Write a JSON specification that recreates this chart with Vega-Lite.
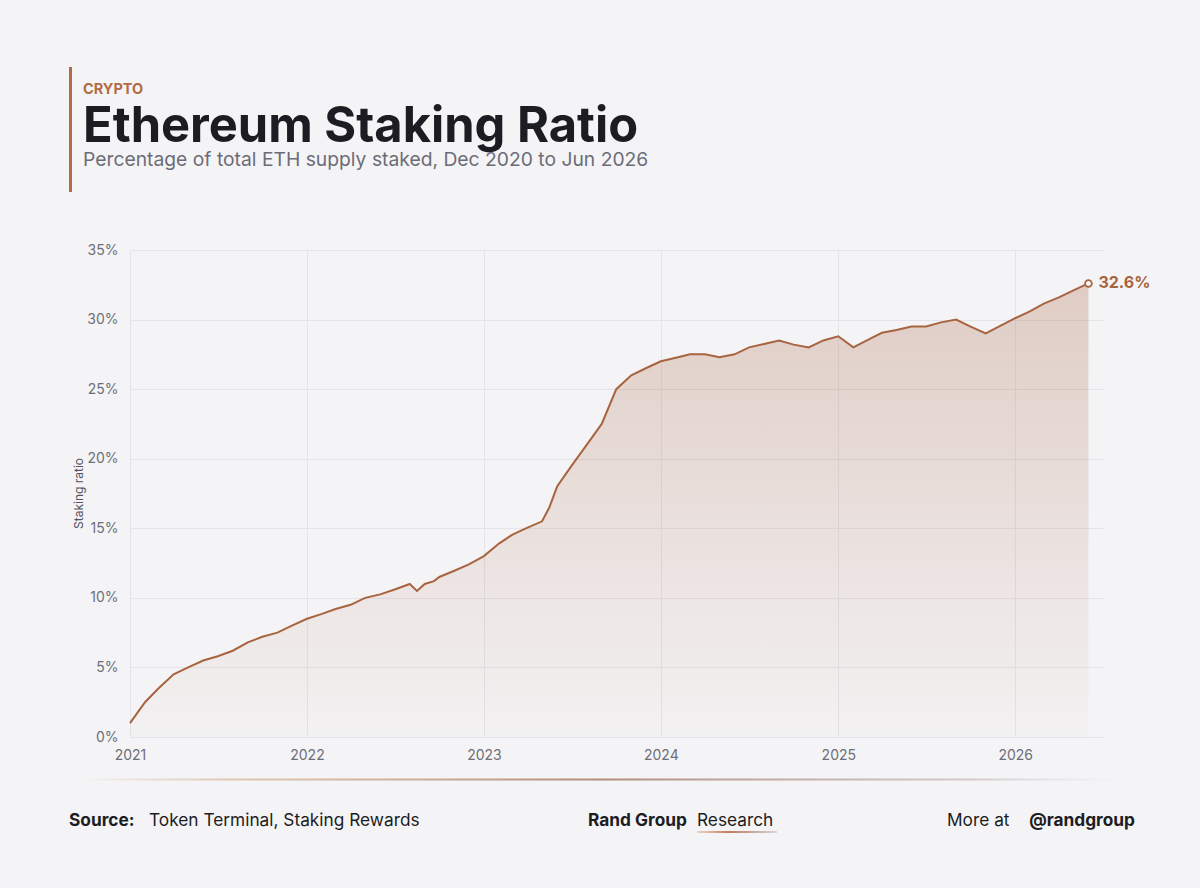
{
  "$schema": "https://vega.github.io/schema/vega-lite/v6.json",
  "autosize": {"type": "none"},
  "width": 973,
  "height": 487,
  "padding": {"left": 130, "top": 250, "right": 97, "bottom": 151},
  "background": "#f4f4f6",
  "config": {
    "view": {"stroke": null},
    "font": "Inter",
    "axis": {"labelFont": "Inter", "titleFont": "Inter"}
  },
  "data": {
    "values": [
      {"date": "2021-01-01", "ratio": 1.0},
      {"date": "2021-02-01", "ratio": 2.5},
      {"date": "2021-03-01", "ratio": 3.5},
      {"date": "2021-04-01", "ratio": 4.5},
      {"date": "2021-05-01", "ratio": 5.0},
      {"date": "2021-06-01", "ratio": 5.5},
      {"date": "2021-07-01", "ratio": 5.8},
      {"date": "2021-08-01", "ratio": 6.2},
      {"date": "2021-09-01", "ratio": 6.8},
      {"date": "2021-10-01", "ratio": 7.2},
      {"date": "2021-11-01", "ratio": 7.5},
      {"date": "2021-12-01", "ratio": 8.0},
      {"date": "2022-01-01", "ratio": 8.5},
      {"date": "2022-02-01", "ratio": 8.85},
      {"date": "2022-03-01", "ratio": 9.2},
      {"date": "2022-04-01", "ratio": 9.5},
      {"date": "2022-05-01", "ratio": 10.0},
      {"date": "2022-06-01", "ratio": 10.25},
      {"date": "2022-07-01", "ratio": 10.6},
      {"date": "2022-08-01", "ratio": 11.0},
      {"date": "2022-08-16", "ratio": 10.5},
      {"date": "2022-09-01", "ratio": 11.0},
      {"date": "2022-09-20", "ratio": 11.2},
      {"date": "2022-10-01", "ratio": 11.5},
      {"date": "2022-11-01", "ratio": 11.95},
      {"date": "2022-12-01", "ratio": 12.4},
      {"date": "2023-01-01", "ratio": 13.0},
      {"date": "2023-02-01", "ratio": 13.9},
      {"date": "2023-03-01", "ratio": 14.55},
      {"date": "2023-04-01", "ratio": 15.05},
      {"date": "2023-05-01", "ratio": 15.5},
      {"date": "2023-05-16", "ratio": 16.5},
      {"date": "2023-06-01", "ratio": 18.0},
      {"date": "2023-07-01", "ratio": 19.5},
      {"date": "2023-08-01", "ratio": 21.0},
      {"date": "2023-09-01", "ratio": 22.5},
      {"date": "2023-10-01", "ratio": 25.0},
      {"date": "2023-11-01", "ratio": 26.0},
      {"date": "2023-12-01", "ratio": 26.5},
      {"date": "2024-01-01", "ratio": 27.0},
      {"date": "2024-02-01", "ratio": 27.25},
      {"date": "2024-03-01", "ratio": 27.5},
      {"date": "2024-04-01", "ratio": 27.5},
      {"date": "2024-05-01", "ratio": 27.3},
      {"date": "2024-06-01", "ratio": 27.5},
      {"date": "2024-07-01", "ratio": 28.0},
      {"date": "2024-08-01", "ratio": 28.25},
      {"date": "2024-09-01", "ratio": 28.5},
      {"date": "2024-10-01", "ratio": 28.2},
      {"date": "2024-11-01", "ratio": 28.0},
      {"date": "2024-12-01", "ratio": 28.5},
      {"date": "2025-01-01", "ratio": 28.8},
      {"date": "2025-02-01", "ratio": 28.0},
      {"date": "2025-03-01", "ratio": 28.5},
      {"date": "2025-04-01", "ratio": 29.05},
      {"date": "2025-05-01", "ratio": 29.25},
      {"date": "2025-06-01", "ratio": 29.5},
      {"date": "2025-07-01", "ratio": 29.5},
      {"date": "2025-08-01", "ratio": 29.8},
      {"date": "2025-09-01", "ratio": 30.0},
      {"date": "2025-10-01", "ratio": 29.5},
      {"date": "2025-11-01", "ratio": 29.0},
      {"date": "2025-12-01", "ratio": 29.55},
      {"date": "2026-01-01", "ratio": 30.1},
      {"date": "2026-02-01", "ratio": 30.6},
      {"date": "2026-03-01", "ratio": 31.15},
      {"date": "2026-04-01", "ratio": 31.6},
      {"date": "2026-05-01", "ratio": 32.1},
      {"date": "2026-06-01", "ratio": 32.6}
    ]
  },
  "layer": [
    {
      "encoding": {
        "x": {
          "field": "date",
          "type": "temporal",
          "scale": {"type": "utc", "domain": [{"year": 2021, "month": 1, "date": 1, "utc": true}, {"year": 2026, "month": 7, "date": 1, "utc": true}]},
          "axis": {
            "title": null,
            "format": "%Y",
            "tickCount": {"interval": "year", "step": 1},
            "grid": true,
            "gridColor": "#e4e4e9",
            "gridWidth": 1,
            "domain": false,
            "ticks": false,
            "labelPadding": 11,
            "labelFontSize": 14,
            "labelColor": "#6e6e78",
            "labelFlush": false
          }
        },
        "y": {
          "field": "ratio",
          "type": "quantitative",
          "scale": {"domain": [0, 35], "nice": false},
          "axis": {
            "title": "Staking ratio",
            "values": [0, 5, 10, 15, 20, 25, 30, 35],
            "labelExpr": "datum.value + '%'",
            "grid": true,
            "gridColor": "#e4e4e9",
            "gridWidth": 1,
            "domain": false,
            "ticks": false,
            "labelPadding": 12,
            "labelFontSize": 14,
            "labelColor": "#6e6e78",
            "titleFontSize": 12,
            "titleFontWeight": "normal",
            "titleColor": "#55555f",
            "titleX": -52,
            "titleY": 243,
            "titleAngle": -90,
            "titleAlign": "center",
            "titleBaseline": "middle"
          }
        }
      },
      "layer": [
        {
          "mark": {
            "type": "area",
            "fill": {
              "gradient": "linear",
              "x1": 0, "y1": 0, "x2": 0, "y2": 1,
              "stops": [
                {"offset": 0, "color": "rgba(168,98,63,0.27)"},
                {"offset": 1, "color": "rgba(168,98,63,0.02)"}
              ]
            }
          }
        },
        {
          "mark": {"type": "line", "color": "#a8643f", "strokeWidth": 2}
        },
        {
          "transform": [{"filter": "time(datum.date) == utc(2026, 5, 1)"}],
          "mark": {"type": "point", "filled": true, "fill": "#ffffff", "stroke": "#a8643f", "strokeWidth": 1.8, "size": 45, "opacity": 1}
        },
        {
          "transform": [
            {"filter": "time(datum.date) == utc(2026, 5, 1)"},
            {"calculate": "format(datum.ratio, '.1f') + '%'", "as": "label"}
          ],
          "mark": {"type": "text", "align": "left", "baseline": "middle", "dx": 10, "font": "Inter", "fontSize": 16, "fontWeight": 700, "color": "#a8643f"},
          "encoding": {"text": {"field": "label"}}
        }
      ]
    },
    {
      "data": {"values": [{}]},
      "mark": {"type": "rect", "x": -61, "x2": -58, "y": -183, "y2": -58, "color": "#b06c48"},
      "encoding": {}
    },
    {
      "data": {"values": [{}]},
      "mark": {"type": "text", "x": -47, "y": -156.5, "align": "left", "baseline": "alphabetic", "text": "CRYPTO", "font": "Inter", "fontSize": 14.5, "fontWeight": 700, "letterSpacing": 1.6, "color": "#b06c48"},
      "encoding": {}
    },
    {
      "data": {"values": [{}]},
      "mark": {"type": "text", "x": -47, "y": -108.3, "align": "left", "baseline": "alphabetic", "text": "Ethereum Staking Ratio", "font": "Inter", "fontSize": 48.8, "fontWeight": 700, "color": "#1c1d22"},
      "encoding": {}
    },
    {
      "data": {"values": [{}]},
      "mark": {"type": "text", "x": -47, "y": -84, "align": "left", "baseline": "alphabetic", "text": "Percentage of total ETH supply staked, Dec 2020 to Jun 2026", "font": "Inter", "fontSize": 19.3, "fontWeight": 400, "color": "#6c6c78"},
      "encoding": {}
    },
    {
      "data": {"values": [{}]},
      "mark": {
        "type": "rect", "x": -55, "x2": 1000, "y": 528.5, "y2": 530.5,
        "fill": {
          "gradient": "linear", "x1": 0, "y1": 0, "x2": 1, "y2": 0,
          "stops": [
            {"offset": 0, "color": "rgba(200,160,130,0)"},
            {"offset": 0.15, "color": "rgba(205,160,125,0.55)"},
            {"offset": 0.5, "color": "rgba(160,115,95,0.8)"},
            {"offset": 0.85, "color": "rgba(170,150,150,0.45)"},
            {"offset": 1, "color": "rgba(200,200,205,0)"}
          ]
        }
      },
      "encoding": {}
    },
    {
      "data": {"values": [{}]},
      "mark": {"type": "text", "x": -61, "y": 576, "align": "left", "baseline": "alphabetic", "text": "Source:", "font": "Inter", "fontSize": 17.3, "fontWeight": 700, "letterSpacing": 0.3, "color": "#1c1d22"},
      "encoding": {}
    },
    {
      "data": {"values": [{}]},
      "mark": {"type": "text", "x": 19, "y": 576, "align": "left", "baseline": "alphabetic", "text": "Token Terminal, Staking Rewards", "font": "Inter", "fontSize": 17.3, "fontWeight": 400, "letterSpacing": 0.15, "color": "#1c1d22"},
      "encoding": {}
    },
    {
      "data": {"values": [{}]},
      "mark": {"type": "text", "x": 458, "y": 576, "align": "left", "baseline": "alphabetic", "text": "Rand Group", "font": "Inter", "fontSize": 17.3, "fontWeight": 700, "letterSpacing": 0.2, "color": "#1c1d22"},
      "encoding": {}
    },
    {
      "data": {"values": [{}]},
      "mark": {"type": "text", "x": 567, "y": 576, "align": "left", "baseline": "alphabetic", "text": "Research", "font": "Inter", "fontSize": 17.3, "fontWeight": 400, "letterSpacing": 0.3, "color": "#1c1d22"},
      "encoding": {}
    },
    {
      "data": {"values": [{}]},
      "mark": {
        "type": "rect", "x": 567, "x2": 647, "y": 581, "y2": 583,
        "fill": {
          "gradient": "linear", "x1": 0, "y1": 0, "x2": 1, "y2": 0,
          "stops": [
            {"offset": 0, "color": "rgba(200,140,100,0.3)"},
            {"offset": 0.4, "color": "rgba(195,125,85,1)"},
            {"offset": 1, "color": "rgba(150,120,120,0.25)"}
          ]
        }
      },
      "encoding": {}
    },
    {
      "data": {"values": [{}]},
      "mark": {"type": "text", "x": 817, "y": 576, "align": "left", "baseline": "alphabetic", "text": "More at", "font": "Inter", "fontSize": 17.3, "fontWeight": 400, "letterSpacing": 0.3, "color": "#1c1d22"},
      "encoding": {}
    },
    {
      "data": {"values": [{}]},
      "mark": {"type": "text", "x": 1005, "y": 576, "align": "right", "baseline": "alphabetic", "text": "@randgroup", "font": "Inter", "fontSize": 17.3, "fontWeight": 700, "letterSpacing": 0.3, "color": "#1c1d22"},
      "encoding": {}
    }
  ]
}
